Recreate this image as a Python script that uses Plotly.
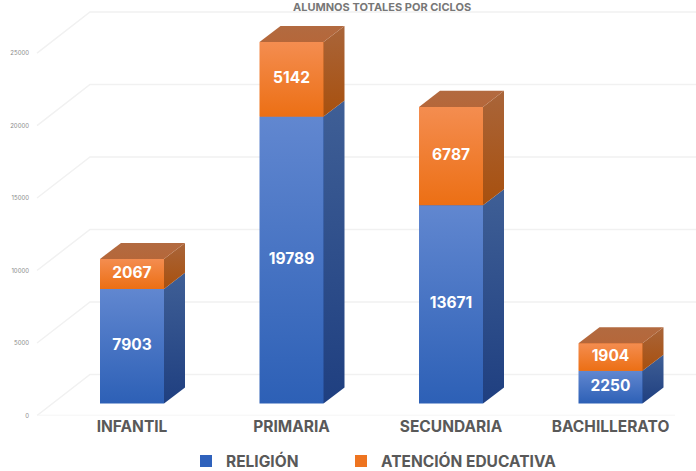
import plotly.graph_objects as go

categories = ["INFANTIL", "PRIMARIA", "SECUNDARIA", "BACHILLERATO"]
religion = [7903, 19789, 13671, 2250]
atencion = [2067, 5142, 6787, 1904]
y_ticks = [0, 5000, 10000, 15000, 20000, 25000]
series_names = ["RELIGIÓN", "ATENCIÓN EDUCATIVA"]
title_text = "ALUMNOS TOTALES POR CICLOS"

W, H = 696, 471
FLOOR_PX = 415
LEGEND_RESERVED = 30
CAT_PX = 159.5
CENTER0_PX = 132
PX_PER_UNIT = 0.01448
BAR_W = 64 / CAT_PX
DX = 21 / CAT_PX
DY = 16 / PX_PER_UNIT
WALL_DY = 41 / PX_PER_UNIT
FONT = "Inter"
GREY = "#595959"


def px_x(p):
    return (p - CENTER0_PX) / CAT_PX


xr = [px_x(0), px_x(W)]
y_range = [0, FLOOR_PX / PX_PER_UNIT]
y2_range = [-12 / PX_PER_UNIT, (FLOOR_PX - 12) / PX_PER_UNIT]
plot_h = H - LEGEND_RESERVED
y_domain = [(plot_h - FLOOR_PX) / plot_h, 1]

fig = go.Figure()

# perspective grid, on the lower axis
GRID = "#F1F1F1"
for v in y_ticks:
    fig.add_trace(go.Scatter(
        x=[px_x(37), px_x(90), px_x(W)], y=[v, v + WALL_DY, v + WALL_DY],
        mode="lines", line=dict(color=GRID, width=1.5),
        showlegend=False, hoverinfo="skip", xaxis="x", yaxis="y"))
fig.add_trace(go.Scatter(
    x=[px_x(37), px_x(675)], y=[0, 0], mode="lines",
    line=dict(color=GRID, width=1.5),
    showlegend=False, hoverinfo="skip", xaxis="x", yaxis="y"))

# front faces as real stacked bars
x_pos = list(range(len(categories)))
front_colors = ["#2F62BC", "#EE7420"]
for name, vals, col, leg in zip(series_names, [religion, atencion], front_colors, ["legend", "legend2"]):
    fig.add_trace(go.Bar(
        x=x_pos, y=vals, name=name, width=BAR_W, marker=dict(color=col, line_width=0),
        legend=leg, xaxis="x", yaxis="y2", hovertemplate="%{y}<extra>" + name + "</extra>"))


def poly(xs, ys, top, bottom):
    fig.add_trace(go.Scatter(
        x=xs, y=ys, mode="lines", line=dict(width=0), fill="toself",
        fillgradient=dict(type="vertical", colorscale=[[0, bottom], [1, top]]),
        showlegend=False, hoverinfo="skip", xaxis="x", yaxis="y2"))


STYLES = [
    dict(front=("#6187D0", "#2D60B6"), side=("#3F5F96", "#1F3F80")),
    dict(front=("#F48D50", "#EC6F14"), side=("#A9653A", "#A8500E")),
]
for i in x_pos:
    l, r = i - BAR_W / 2, i + BAR_W / 2
    b1, b2 = religion[i], religion[i] + atencion[i]
    for (lo, hi), st in zip([(0, b1), (b1, b2)], STYLES):
        poly([l, r, r, l, l], [lo, lo, hi, hi, lo], *st["front"])
        poly([r, r + DX, r + DX, r, r], [lo, lo + DY, hi + DY, hi, lo], *st["side"])
    poly([l, r, r + DX, l + DX, l], [b2, b2, b2 + DY, b2 + DY, b2], "#B26A40", "#B5673A")

# value labels above the gradient faces
for lo_vals, vals in [([0] * len(religion), religion), (religion, atencion)]:
    fig.add_trace(go.Scatter(
        x=x_pos, y=[a + v / 2 for a, v in zip(lo_vals, vals)],
        mode="text", text=[str(v) for v in vals],
        textfont=dict(family=FONT, size=15.5, color="white", weight="bold"),
        textposition="middle center", showlegend=False, hoverinfo="skip",
        xaxis="x", yaxis="y2"))

legend_font = dict(family=FONT, size=15.5, color=GREY, weight="bold")
legend_y = (H - 461.5) / H
fig.update_layout(
    width=W, height=H, margin=dict(l=0, r=0, t=0, b=0),
    paper_bgcolor="white", plot_bgcolor="white", barmode="stack",
    xaxis=dict(range=xr, domain=[0, 1], tickmode="array", tickvals=x_pos, ticktext=categories,
               showgrid=False, zeroline=False, showline=False, ticks="",
               tickangle=0, anchor="y",
               tickfont=dict(family=FONT, size=15.5, color=GREY, weight="bold")),
    yaxis=dict(range=y_range, domain=y_domain, tickmode="array", tickvals=y_ticks, tickformat="d",
               showgrid=False, zeroline=False, showline=False, anchor="free", position=29 / W,
               side="left", ticks="", tickfont=dict(family=FONT, size=6, color="#8A8A8A")),
    yaxis2=dict(range=y2_range, domain=y_domain, overlaying="y", visible=False),
    legend=dict(orientation="h", xref="container", yref="container", x=186 / W, xanchor="left",
                y=legend_y, yanchor="middle", font=legend_font, bgcolor="rgba(0,0,0,0)"),
    legend2=dict(orientation="h", xref="container", yref="container", x=341 / W, xanchor="left",
                 y=legend_y, yanchor="middle", font=legend_font, bgcolor="rgba(0,0,0,0)"),
    annotations=[dict(text=title_text, xref="paper", yref="paper", x=382 / W, y=1, yanchor="top",
                      yshift=2, showarrow=False,
                      font=dict(family=FONT, size=11, color="#777777", weight="bold"))],
)
fig.write_html("out.html", config=dict(displayModeBar=False),
               post_script="document.body.style.margin='0';")
